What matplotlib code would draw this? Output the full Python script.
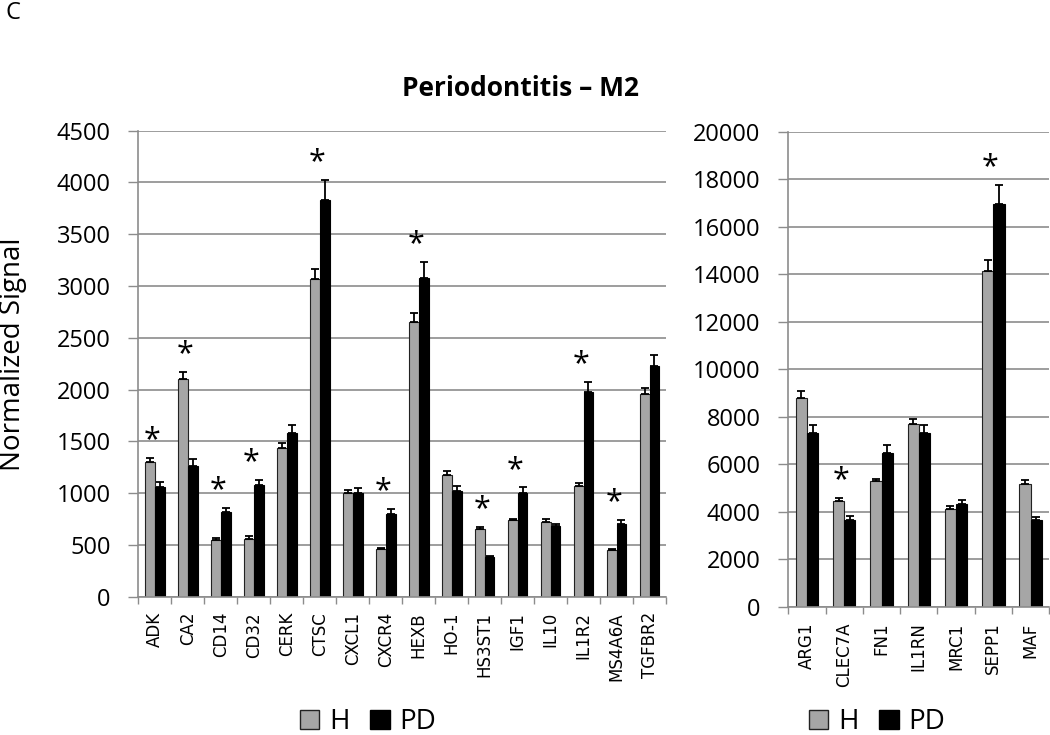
import numpy as np
import matplotlib
matplotlib.use('Agg')
import matplotlib.pyplot as plt
from matplotlib.patches import Patch

# left panel genes (0-4500 scale)
left_genes = ['ADK', 'CA2', 'CD14', 'CD32', 'CERK', 'CTSC', 'CXCL1', 'CXCR4',
              'HEXB', 'HO-1', 'HS3ST1', 'IGF1', 'IL10', 'IL1R2', 'MS4A6A', 'TGFBR2']
left_h = [1300, 2100, 545, 560, 1440, 3070, 1000, 465, 2655, 1175, 655, 745, 725, 1070, 450, 1955]
left_h_err = [40, 70, 20, 22, 45, 90, 30, 8, 80, 35, 22, 10, 25, 30, 8, 58]
left_pd = [1055, 1260, 820, 1075, 1580, 3830, 1000, 800, 3080, 1025, 385, 1000, 680, 1975, 705, 2225]
left_pd_err = [48, 65, 35, 52, 75, 190, 50, 45, 150, 42, 5, 55, 22, 95, 38, 105]
left_sig = ['ADK', 'CA2', 'CD14', 'CD32', 'CTSC', 'CXCR4', 'HEXB', 'HS3ST1', 'IGF1', 'IL1R2', 'MS4A6A']

# right panel genes (0-20000 scale)
right_genes = ['ARG1', 'CLEC7A', 'FN1', 'IL1RN', 'MRC1', 'SEPP1', 'MAF']
right_h = [8810, 4480, 5290, 7710, 4140, 14140, 5190]
right_h_err = [270, 110, 110, 210, 100, 450, 170]
right_pd = [7320, 3680, 6500, 7320, 4340, 16940, 3640]
right_pd_err = [350, 170, 300, 350, 180, 830, 155]
right_sig = ['CLEC7A', 'SEPP1']

H_COLOR = '#a6a6a6'
GRID = '#8c8c8c'
FONT = 'Open Sans'
W = 1050
H = 735


def draw_panel(ax, genes, h, h_err, pd, pd_err, sig, ymax, ystep):
    x = np.arange(len(genes))
    w = 0.3
    zeros = [0] * len(genes)
    ax.bar(x - w / 2, h, w, color=H_COLOR, edgecolor='#222222', linewidth=0.8,
           yerr=[zeros, h_err], error_kw=dict(ecolor='black', elinewidth=1.3, capsize=3, capthick=1.3))
    ax.bar(x + w / 2, pd, w, color='black', edgecolor='black', linewidth=0.8,
           yerr=[zeros, pd_err], error_kw=dict(ecolor='black', elinewidth=1.3, capsize=3, capthick=1.3))

    # significance stars just above the taller error bar
    for i, g in enumerate(genes):
        if g in sig:
            top = max(h[i] + h_err[i], pd[i] + pd_err[i])
            ax.annotate('*', xy=(x[i] - 0.08, top), xytext=(0, 2), textcoords='offset points',
                        ha='center', va='bottom', fontsize=22, family=FONT)

    ax.set_xlim(-0.5, len(genes) - 0.5)
    ax.set_ylim(0, ymax)
    ax.set_yticks(np.arange(0, ymax + 1, ystep))
    ax.set_xticks(x)
    ax.set_xticklabels(genes, rotation=90, fontsize=12, family='DejaVu Sans')
    ax.set_xticks(np.arange(-0.5, len(genes), 1), minor=True)
    ax.tick_params(axis='x', which='major', length=0, pad=11)
    ax.tick_params(axis='x', which='minor', length=5, color=GRID, width=1)
    ax.tick_params(axis='y', length=7, color=GRID, width=1, pad=13, labelsize=17)
    for lab in ax.get_yticklabels():
        lab.set_family(FONT)
    ax.grid(axis='y', color=GRID, linewidth=1.2)
    ax.set_axisbelow(True)
    for s in ['top', 'right']:
        ax.spines[s].set_visible(False)
    for s in ['left', 'bottom']:
        ax.spines[s].set_color(GRID)
        ax.spines[s].set_linewidth(1.2)


fig = plt.figure(figsize=(10.5, 7.35), dpi=100)
ax1 = fig.add_axes([138.3 / W, 1 - 596.7 / H, 527.7 / W, 466 / H])
ax2 = fig.add_axes([788.3 / W, 1 - 607 / H, 261 / W, 475.3 / H])

draw_panel(ax1, left_genes, left_h, left_h_err, left_pd, left_pd_err, left_sig, 4500, 500)
draw_panel(ax2, right_genes, right_h, right_h_err, right_pd, right_pd_err, right_sig, 20000, 2000)

fig.text(521 / W, 1 - 88 / H, 'Periodontitis \u2013 M2', ha='center', va='center',
         fontsize=19, fontweight='bold', family=FONT)
fig.text(13 / W, 1 - 354 / H, 'Normalized Signal', ha='center', va='center',
         rotation=90, fontsize=20, family=FONT)
fig.text(5 / W, 1 - 13 / H, 'C', ha='left', va='center', fontsize=17, family=FONT)

handles = [Patch(facecolor=H_COLOR, edgecolor='#222222', label='H'),
           Patch(facecolor='black', edgecolor='black', label='PD')]
for cx in [368, 877]:
    fig.legend(handles=handles, loc='center', bbox_to_anchor=(cx / W, 1 - 722 / H), ncol=2,
               frameon=False, prop={'family': FONT, 'size': 20}, handlelength=0.7,
               handleheight=0.7, handletextpad=0.35, columnspacing=0.75, borderpad=0)

fig.savefig('out.png', dpi=100)
